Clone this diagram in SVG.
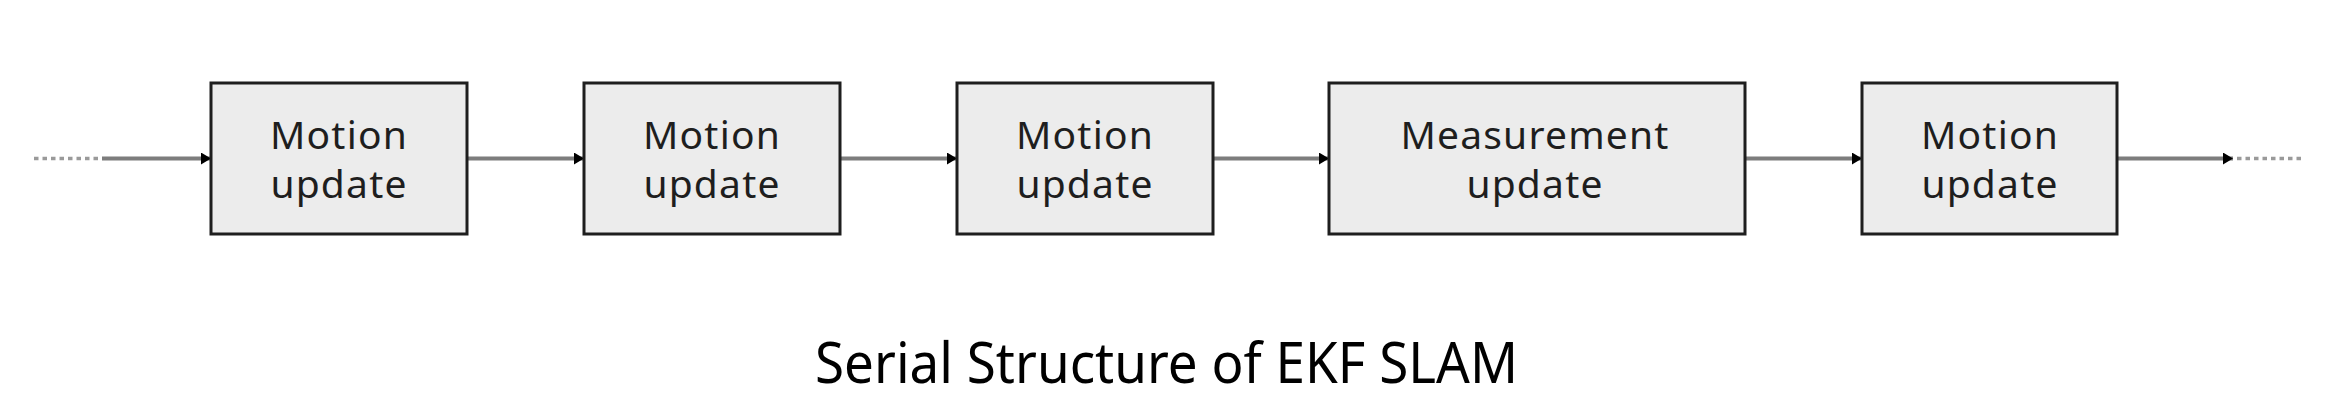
<svg xmlns="http://www.w3.org/2000/svg" width="2350" height="416" viewBox="0 0 2350 416">
<style>
.box{fill:#ececec;stroke:#1e1e1e;stroke-width:3}
.lbl{font-family:"Noto Sans","Open Sans",sans-serif;font-size:39px;fill:#1e1e1e;text-anchor:middle;letter-spacing:1.2px}
.conn{stroke:#7d7d7d;stroke-width:4;fill:none}
.dot{stroke:#9a9a9a;stroke-width:3.5;fill:none;stroke-dasharray:4.5 4}
.title{font-family:"Noto Sans","Open Sans",sans-serif;font-size:57px;fill:#000;text-anchor:middle}
</style>
<defs>
<marker id="arr" viewBox="0 0 10 10" refX="10" refY="5" markerWidth="10" markerHeight="12" markerUnits="userSpaceOnUse" orient="auto" preserveAspectRatio="none">
<path d="M0,0 L10,5 L0,10 Z" fill="#000"/>
</marker>
</defs>
<rect width="2350" height="416" fill="#fff"/>
<g id="connectors">
<line class="dot" x1="34" y1="158.5" x2="102" y2="158.5"/>
<line class="conn" x1="102" y1="158.5" x2="211" y2="158.5" marker-end="url(#arr)"/>
<line class="conn" x1="467" y1="158.5" x2="584" y2="158.5" marker-end="url(#arr)"/>
<line class="conn" x1="840" y1="158.5" x2="957" y2="158.5" marker-end="url(#arr)"/>
<line class="conn" x1="1213" y1="158.5" x2="1329" y2="158.5" marker-end="url(#arr)"/>
<line class="conn" x1="1745" y1="158.5" x2="1862" y2="158.5" marker-end="url(#arr)"/>
<line class="conn" x1="2117" y1="158.5" x2="2233" y2="158.5" marker-end="url(#arr)"/>
<line class="dot" x1="2237" y1="158.5" x2="2305" y2="158.5"/>
</g>
<g id="node1">
<rect class="box" x="211" y="83" width="256" height="151"/>
<text class="lbl" x="339" y="149">Motion</text>
<text class="lbl" x="339" y="198">update</text>
</g>
<g id="node2">
<rect class="box" x="584" y="83" width="256" height="151"/>
<text class="lbl" x="712" y="149">Motion</text>
<text class="lbl" x="712" y="198">update</text>
</g>
<g id="node3">
<rect class="box" x="957" y="83" width="256" height="151"/>
<text class="lbl" x="1085" y="149">Motion</text>
<text class="lbl" x="1085" y="198">update</text>
</g>
<g id="node4">
<rect class="box" x="1329" y="83" width="416" height="151"/>
<text class="lbl" x="1535" y="149">Measurement</text>
<text class="lbl" x="1535" y="198">update</text>
</g>
<g id="node5">
<rect class="box" x="1862" y="83" width="255" height="151"/>
<text class="lbl" x="1990" y="149">Motion</text>
<text class="lbl" x="1990" y="198">update</text>
</g>
<text class="title" x="1166.5" y="383" textLength="703" lengthAdjust="spacingAndGlyphs">Serial Structure of EKF SLAM</text>
</svg>
